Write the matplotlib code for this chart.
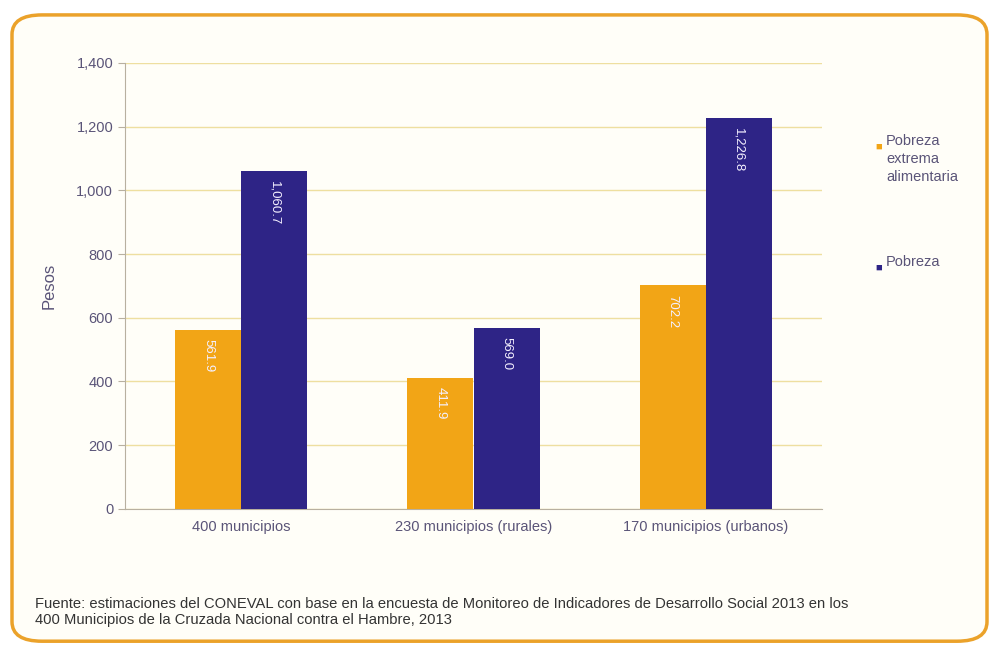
import numpy as np
import matplotlib.pyplot as plt
from matplotlib.patches import FancyBboxPatch

plt.rcParams['font.family'] = ['Liberation Sans', 'DejaVu Sans']

# datos
categorias = ["400 municipios", "230 municipios (rurales)", "170 municipios (urbanos)"]
pobreza_extrema = [561.9, 411.9, 702.2]
pobreza = [1060.7, 569.0, 1226.8]
series = ["Pobreza\nextrema\nalimentaria", "Pobreza"]
fuente = ("Fuente: estimaciones del CONEVAL con base en la encuesta de Monitoreo de Indicadores de Desarrollo Social 2013 en los\n"
          "400 Municipios de la Cruzada Nacional contra el Hambre, 2013")

naranja = "#F2A516"
azul = "#2E2486"
texto = "#5A5478"

fig = plt.figure(figsize=(10, 6.49), dpi=100)
fig.patch.set_facecolor("white")

# marco redondeado
marco = FancyBboxPatch((0.012, 0.012), 0.975, 0.965, boxstyle="round,pad=0,rounding_size=0.03",
                       transform=fig.transFigure, facecolor="#FFFEF8", edgecolor="#EBA22A",
                       linewidth=2.5, zorder=-10)
fig.patches.append(marco)

ax = fig.add_axes([0.125, 0.216, 0.697, 0.687])
ax.set_zorder(5)
ax.set_facecolor("none")
x = np.arange(len(categorias))
w = 0.285
b1 = ax.bar(x - w / 2, pobreza_extrema, w, color=naranja, zorder=3)
b2 = ax.bar(x + w / 2, pobreza, w, color=azul, zorder=3)

for bars, vals in [(b1, pobreza_extrema), (b2, pobreza)]:
    for r, v in zip(bars, vals):
        ax.text(r.get_x() + r.get_width() / 2, v - 30, f"{v:,.1f}", rotation=270,
                ha="center", va="top", color="#F4F0FF", fontsize=9.5, zorder=4)

ax.set_xlim(-0.5, 2.5)
ax.set_ylim(0, 1400)
ax.set_yticks(range(0, 1401, 200))
ax.set_yticklabels([f"{v:,}" for v in range(0, 1401, 200)])
ax.set_xticks(x)
ax.set_xticklabels(categorias)
ax.grid(axis="y", color="#EEDFA0", linewidth=1, zorder=0)
for s in ["top", "right"]:
    ax.spines[s].set_visible(False)
ax.spines["left"].set_color("#B8B0A0")
ax.spines["bottom"].set_color("#B8B0A0")
ax.tick_params(axis="y", colors="#B8B0A0", labelcolor=texto, labelsize=10.5, length=5)
ax.tick_params(axis="x", colors="#B8B0A0", labelcolor=texto, labelsize=10.5, length=0, pad=8)
ax.set_ylabel("Pesos", color=texto, fontsize=12, labelpad=14)

# leyenda
fig.text(0.875, 0.781, "■", color=naranja, fontsize=8, va="top")
fig.text(0.886, 0.793, series[0], color=texto, fontsize=10.5, va="top", linespacing=1.35)
fig.text(0.875, 0.595, "■", color=azul, fontsize=8, va="top")
fig.text(0.886, 0.607, series[1], color=texto, fontsize=10.5, va="top")

fig.text(0.035, 0.057, fuente, color="#333333", fontsize=10.6, va="center", linespacing=1.15)

fig.savefig("out.png", dpi=100)
